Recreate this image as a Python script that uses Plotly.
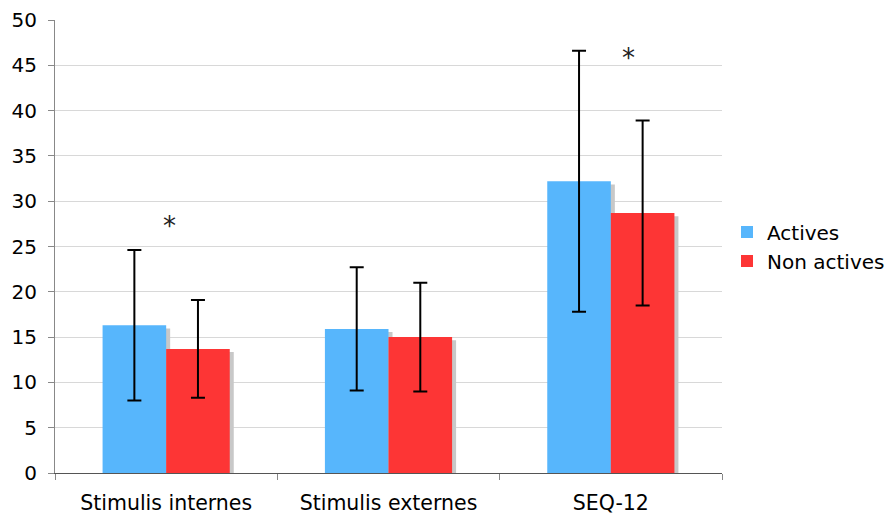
import plotly.graph_objects as go

categories = ["Stimulis internes", "Stimulis externes", "SEQ-12"]
actives = [16.3, 15.9, 32.2]
actives_err = [8.3, 6.8, 14.4]
non_actives = [13.7, 15.0, 28.7]
non_actives_err = [5.4, 6.0, 10.2]
star_y = [27.3, None, 45.8]
star_x = [0.015, None, 2.08]

BW = 0.286
SH_DX = 0.018
SH_DY = 0.35

fig = go.Figure()
# shadows
for vals, off in [(actives, -BW), (non_actives, 0)]:
    fig.add_trace(go.Bar(x=categories, y=[v - SH_DY for v in vals], width=BW,
                         offset=off + SH_DX, marker=dict(color="#c8c8c8", line=dict(width=0)),
                         showlegend=False, hoverinfo="skip"))
fig.add_trace(go.Bar(x=categories, y=actives, name="Actives", width=BW, offset=-BW,
                     marker=dict(color="#57b6fc", line=dict(width=0)),
                     error_y=dict(type="data", array=actives_err, color="black", thickness=2, width=7)))
fig.add_trace(go.Bar(x=categories, y=non_actives, name="Non actives", width=BW, offset=0,
                     marker=dict(color="#fd3535", line=dict(width=0)),
                     error_y=dict(type="data", array=non_actives_err, color="black", thickness=2, width=7)))

for cx, sy in zip(star_x, star_y):
    if sy is None:
        continue
    fig.add_annotation(x=cx, y=sy, xref="x", yref="y", text="*", showarrow=False,
                       font=dict(size=26, color="#222"))

fig.update_layout(
    width=890, height=514,
    barmode="overlay",
    plot_bgcolor="white", paper_bgcolor="white",
    margin=dict(l=55, r=168, t=20, b=41, autoexpand=False),
    font=dict(family="DejaVu Sans", color="black"),
    legend=dict(xref="container", x=1.0, y=0.5, yanchor="middle", xanchor="right",
                font=dict(size=20), traceorder="normal", itemwidth=30,
                tracegroupgap=0),
    showlegend=True,
)
fig.update_xaxes(type="category", range=[-0.5, 2.5], showline=True, linecolor="#555", linewidth=1,
                 ticks="outside", tickson="boundaries", ticklen=6, tickcolor="#888",
                 tickfont=dict(size=20.5), showgrid=False, automargin=False, ticklabelstandoff=11)
fig.update_yaxes(range=[0, 50], dtick=5, showline=True, linecolor="#888", linewidth=1,
                 ticks="outside", ticklen=6, tickcolor="#888", gridcolor="#d8d8d8",
                 tickfont=dict(size=20), zeroline=False, automargin=False, ticklabelstandoff=7)

fig.write_html("out.html", config={"displayModeBar": False},
               post_script="document.body.style.margin='0';document.body.style.overflow='hidden';")
